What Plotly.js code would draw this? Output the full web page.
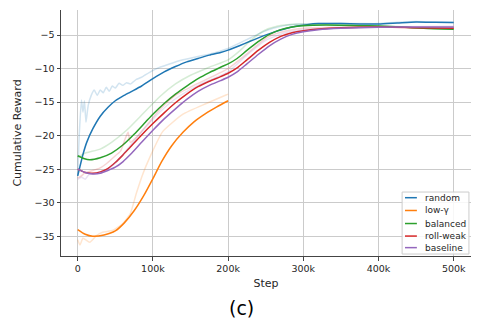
<!DOCTYPE html>
<html>
<head>
<meta charset="utf-8">
<script src="https://cdn.plot.ly/plotly-3.0.1.min.js"></script>
<style>html,body{margin:0;padding:0;background:#fff;}#chart{width:481px;height:322px;}</style>
</head>
<body>
<div id="chart"></div>
<script>
// ---- data (steps in thousands, values = cumulative reward) ----
const seriesNames = ["random", "low-γ", "balanced", "roll-weak", "baseline"];
const seriesColors = ["#1f77b4", "#ff7f0e", "#2ca02c", "#d62728", "#9467bd"];

const randomRawSteps = [0,2,5,7,9,11,14,18,22,26,30,34,38,42,46,50,55,60,65,70,78,85,95,105,120,140,160,180,200,215,230,245,260,275,290,320,350,380,400,425,450,475,500];
const randomRaw = [-26,-20,-14.7,-16.5,-14.8,-18,-15.5,-14,-13.2,-14,-13.2,-13.6,-12.8,-13.4,-12.6,-12.9,-12.2,-12.5,-12.1,-12.3,-11.6,-11.3,-10.6,-10.0,-9.4,-8.7,-8.2,-7.7,-7.0,-6.2,-5.4,-4.6,-4.0,-3.6,-3.4,-3.3,-3.25,-3.3,-3.3,-3.1,-3.0,-3.1,-3.15];
const randomSteps = [0,3,7,12,20,30,40,50,60,70,85,100,115,130,145,160,175,190,200,215,230,245,260,275,290,305,320,350,375,400,425,450,475,500];
const randomSmooth = [-26.0,-24.6,-22.8,-21.0,-19.0,-17.1,-15.8,-14.8,-14.1,-13.5,-12.6,-11.5,-10.5,-9.7,-9.0,-8.5,-8.0,-7.6,-7.25,-6.6,-5.9,-5.2,-4.6,-4.1,-3.7,-3.45,-3.3,-3.3,-3.35,-3.35,-3.2,-3.05,-3.1,-3.15];

const lowGammaRawSteps = [0,3,7,16,25,33,47,60,70,78,87,96,113,140,171,198,200];
const lowGammaRaw = [-35.5,-36.3,-35.3,-35.9,-34.9,-34.4,-34.1,-33.1,-31.6,-28.6,-25.6,-23.2,-19.4,-16.8,-15.2,-13.9,-13.8];
const lowGammaSteps = [0,10,20,35,50,62,75,88,100,112,125,140,155,170,185,200];
const lowGammaSmooth = [-34.0,-34.7,-35.0,-34.8,-34.2,-33.0,-31.2,-28.9,-26.4,-23.8,-21.5,-19.5,-17.9,-16.7,-15.7,-14.8];

const balancedRawSteps = [0,10,30,45,65,87,109,130,150,175,200,215,230,247,265,290,350,400,450,500];
const balancedRaw = [-23.2,-22.6,-22.0,-21.0,-19.2,-16.7,-14.2,-12.3,-11.0,-9.8,-8.7,-7.4,-5.8,-4.4,-3.7,-3.4,-3.5,-3.6,-3.9,-4.1];
const balancedSteps = [0,8,16,30,45,60,75,90,100,115,130,145,160,175,190,200,212,225,240,255,270,285,300,330,375,400,430,460,500];
const balancedSmooth = [-23.0,-23.4,-23.6,-23.3,-22.6,-21.4,-19.8,-18.0,-16.8,-15.2,-13.8,-12.6,-11.5,-10.6,-9.8,-9.3,-8.5,-7.3,-6.0,-4.9,-4.2,-3.8,-3.6,-3.5,-3.6,-3.65,-3.8,-4.0,-4.15];

const rollWeakRawSteps = [0,5,10,20,30,40,50,57,63,67,70,80,95,110,130,160,200,225,250,270,300,400,500];
const rollWeakRaw = [-26.3,-26.0,-25.5,-25.2,-24.8,-24.0,-23.0,-22.3,-20.5,-19.5,-21.0,-20.0,-18.0,-16.0,-14.0,-12.2,-10.0,-7.8,-5.5,-4.6,-4.0,-3.8,-3.9];
const rollWeakSteps = [0,10,20,30,40,50,60,70,85,100,115,130,145,160,175,190,200,212,225,240,255,270,285,300,320,350,400,450,500];
const rollWeakSmooth = [-25.0,-25.5,-25.6,-25.4,-24.9,-24.0,-22.9,-21.7,-19.9,-18.2,-16.6,-15.1,-13.8,-12.7,-11.9,-11.2,-10.7,-9.9,-8.7,-7.3,-6.1,-5.2,-4.65,-4.35,-4.1,-3.9,-3.8,-3.9,-4.0];

const baselineRawSteps = [0,5,10,15,25,40,55,70,90,110,130,160,200,225,250,275,300,400,500];
const baselineRaw = [-26.5,-26.2,-26.5,-25.8,-25.6,-25.0,-23.5,-21.5,-18.8,-16.4,-14.5,-12.5,-10.5,-8.0,-5.8,-4.7,-4.2,-3.8,-3.7];
const baselineSteps = [0,10,20,30,40,50,60,72,85,100,115,130,145,160,175,190,200,212,225,240,255,270,285,300,320,350,400,450,500];
const baselineSmooth = [-25.0,-25.5,-25.7,-25.6,-25.2,-24.7,-23.9,-22.6,-21.0,-19.2,-17.5,-16.0,-14.6,-13.4,-12.5,-11.8,-11.3,-10.5,-9.3,-7.9,-6.6,-5.6,-4.9,-4.5,-4.2,-4.0,-3.85,-3.8,-3.8];

const xTickVals = [0,100,200,300,400,500];
const xTickText = ["0","100k","200k","300k","400k","500k"];
const yTickVals = [-35,-30,-25,-20,-15,-10,-5];

const rawSets = [[randomRawSteps,randomRaw],[lowGammaRawSteps,lowGammaRaw],[balancedRawSteps,balancedRaw],[rollWeakRawSteps,rollWeakRaw],[baselineRawSteps,baselineRaw]];
const smoothSets = [[randomSteps,randomSmooth],[lowGammaSteps,lowGammaSmooth],[balancedSteps,balancedSmooth],[rollWeakSteps,rollWeakSmooth],[baselineSteps,baselineSmooth]];

const toSteps = a => a.map(k => k*1000);
const traces = [];
seriesNames.forEach((name, i) => {
  traces.push({x: toSteps(rawSets[i][0]), y: rawSets[i][1], type: 'scatter', mode: 'lines',
    line: {color: seriesColors[i], width: 1.5, shape: 'spline', smoothing: 0.5}, opacity: 0.2, showlegend: false, hoverinfo: 'skip'});
  traces.push({x: toSteps(smoothSets[i][0]), y: smoothSets[i][1], type: 'scatter', mode: 'lines', name: name,
    line: {color: seriesColors[i], width: 1.5, shape: 'spline', smoothing: 0.6}, showlegend: false});
});

// custom legend (matplotlib style)
const shapes = [{type:'rect', xref:'paper', yref:'paper', x0:0.832, x1:0.995, y0:0.008, y1:0.260,
  line:{color:'#cccccc', width:1}, fillcolor:'rgba(255,255,255,0.85)', layer:'above'}];
const annotations = [];
const legY = [0.237, 0.185, 0.132, 0.081, 0.034];
seriesNames.forEach((name, i) => {
  shapes.push({type:'line', xref:'paper', yref:'paper', x0:0.839, x1:0.868, y0:legY[i], y1:legY[i],
    line:{color:seriesColors[i], width:1.5}, layer:'above'});
  annotations.push({xref:'paper', yref:'paper', x:0.883, y:legY[i], xanchor:'left', yanchor:'middle',
    text:name, showarrow:false, font:{family:'DejaVu Sans', size:9, color:'#262626'}});
});
annotations.push({xref:'paper', yref:'paper', x:0.441, y:-0.213, xanchor:'center', yanchor:'middle',
  text:'(c)', showarrow:false, font:{family:'DejaVu Sans', size:19, color:'#000'}});

const axisCommon = {showgrid:true, gridcolor:'#cbcbcb', gridwidth:1, zeroline:false, showline:true,
  linecolor:'#444', linewidth:1, ticks:'outside', ticklen:3.5, tickcolor:'#444', tickwidth:1,
  tickfont:{family:'DejaVu Sans', size:9.5, color:'#262626'}};

const layout = {
  width:481, height:322, paper_bgcolor:'#fff', plot_bgcolor:'#fff',
  margin:{l:61, r:10, t:10, b:66},
  font:{family:'DejaVu Sans', color:'#262626'},
  xaxis: Object.assign({}, axisCommon, {range:[-22200, 523000], tickvals:xTickVals.map(k=>k*1000), ticktext:xTickText,
    title:{text:'Step', font:{family:'DejaVu Sans', size:11, color:'#262626'}, standoff:6}}),
  yaxis: Object.assign({}, axisCommon, {range:[-37.94, -1.27], tickvals:yTickVals,
    title:{text:'Cumulative Reward', font:{family:'DejaVu Sans', size:11, color:'#262626'}, standoff:10}}),
  shapes: shapes, annotations: annotations, showlegend:false
};
Plotly.newPlot('chart', traces, layout, {staticPlot:true, displayModeBar:false});
</script>
</body>
</html>
